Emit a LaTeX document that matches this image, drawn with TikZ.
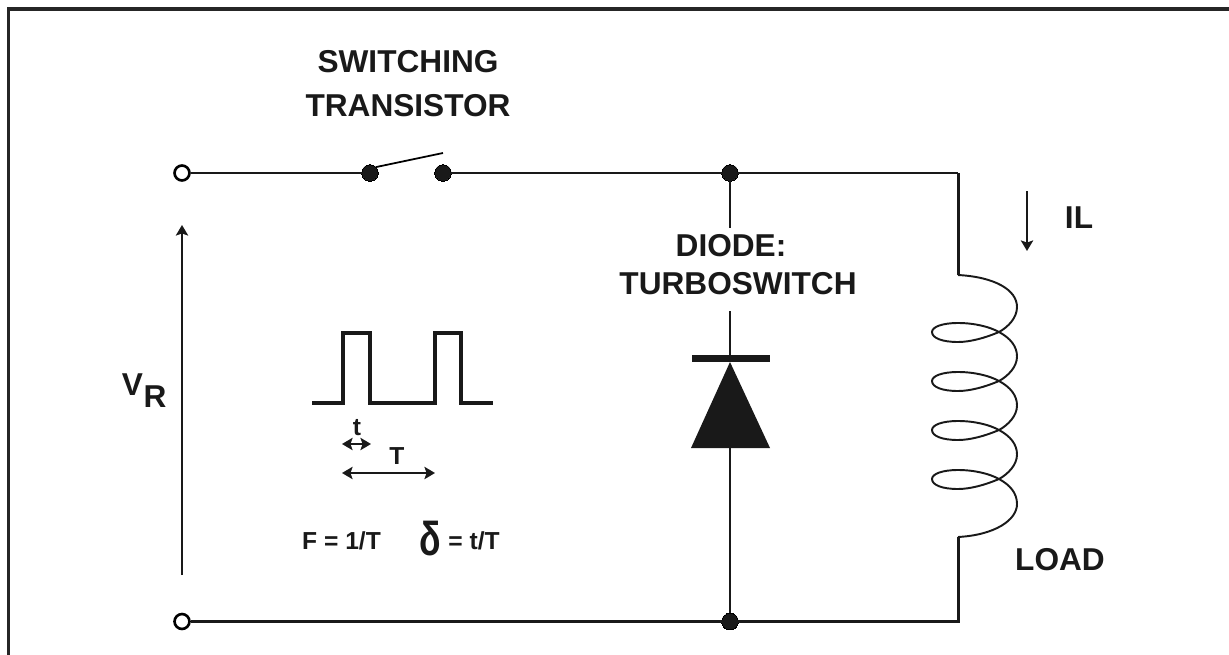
\documentclass[tikz,border=0pt]{standalone}
\usepackage{fontspec}
\setmainfont{Liberation Sans}
\usetikzlibrary{arrows.meta}

\tikzset{
    wire/.style={line width=1.2pt, black!90},
    thickwire/.style={line width=1.7pt, black!90},
    coil/.style={line width=1.1pt, black!90},
    term/.style={draw, circle, fill=white, line width=1.5pt, minimum size=8.5pt, inner sep=0pt},
    dot/.style={draw, circle, fill=black!90, line width=0pt, minimum size=9.5pt, inner sep=0pt},
    biglabel/.style={font=\bfseries\fontsize{18}{25}\selectfont, text=black!90, inner sep=0pt, align=center},
    smalllabel/.style={font=\bfseries\fontsize{14}{16}\selectfont, text=black!90, inner sep=0pt},
    tip/.style={line width=1.2pt, black!90, >={Stealth[length=6pt, width=7pt, inset=1.2pt]}},
}

\begin{document}
\begin{tikzpicture}[x=0.02cm, y=-0.02cm]
    \useasboundingbox (0,0) rectangle (1229,655);

    % frame
    \coordinate (FB) at (8.5,655);
    \coordinate (FT) at (1229,9);
    \draw[line width=2pt, black!85] (FB) |- (FT);

    \node[term] (Vtop) at (182,173) {};
    \node[term] (Vbot) at (182,621.5) {};
    \node[dot] (S1) at (370,173) {};
    \node[dot] (S2) at (443,173) {};
    \node[dot] (Jtop) at (730,173) {};
    \node[dot] (Jbot) at (730,621.5) {};
    \coordinate (Ctop) at (958,173);
    \coordinate (Cbot) at (958,621.5);
    \coordinate (L1) at (958,275);
    \coordinate (L2) at (958,537);
    \coordinate (Arm) at (443,153);
    \coordinate (Dgap1) at (730,228);
    \coordinate (Dgap2) at (730,311);
    \coordinate (Dtip) at (730,362);
    \coordinate (Dbase) at (730,448);

    \draw[wire] (Vtop) -- (S1);
    \draw[line width=1pt] (S1.north east) -- (Arm);
    \draw[wire] (S2) -- (Jtop) -- (Ctop);
    \draw[thickwire] (Ctop) -- (L1);
    \draw[thickwire] (L2) -- (Cbot) -- (Jbot) -- (Vbot);
    \draw[wire] (Jtop) -- (Dgap1);
    \draw[wire] (Dgap2) -- (Dtip);
    \draw[wire] (Dbase) -- (Jbot);

    % diode
    \fill[black!90] (691,448) -- (Dtip) -- (770,448) -- cycle;
    \fill[black!90] (692,355) rectangle (770,362);

    % load
    \draw[coil] (L1) .. controls (995,277) and (1017,290) .. (1017,307) .. controls (1017,318) and (1008,327) .. (999,332);
    \foreach \y [evaluate=\y as \d using \y+24.5, evaluate=\y as \e using \y+49] in {332,381,430} {
        \draw[coil] (999,\y) .. controls (985,\y+6) and (970,\y+10) .. (958,\y+10) .. controls (942,\y+10) and (932,\y+6) .. (932,\y) .. controls (932,\y-5) and (942,\y-9) .. (958,\y-9) .. controls (975,\y-9) and (990,\y-5) .. (999,\y) .. controls (1010,\y+6) and (1017,\y+14) .. (1017,\d) .. controls (1017,\y+35) and (1008,\y+44) .. (999,\e);
    }
    \draw[coil] (999,479) .. controls (985,485) and (970,489) .. (958,489) .. controls (942,489) and (932,485) .. (932,479) .. controls (932,474) and (942,470) .. (958,470) .. controls (975,470) and (990,474) .. (999,479) .. controls (1010,485) and (1017,493) .. (1017,504) .. controls (1017,520) and (995,535) .. (L2);

    % pulses
    \coordinate (P0) at (312,403);
    \coordinate (P1) at (493,403);
    \draw[line width=2.3pt, black!90, line join=miter] (P0) -- (343,403) -- (343,333) -- (370,333) -- (370,403) -- (435,403) -- (435,333) -- (461,333) -- (461,403) -- (P1);

    \coordinate (VA) at (182,575);
    \coordinate (VB) at (182,225);
    \draw[->, tip] (VA) -- (VB);
    \coordinate (IA) at (1027,191);
    \coordinate (IB) at (1027,251);
    \draw[->, tip] (IA) -- (IB);
    \coordinate (t1) at (342,444);
    \coordinate (t2) at (371,444);
    \draw[<->, tip] (t1) -- (t2);
    \coordinate (T1) at (342,473);
    \coordinate (T2) at (435,473);
    \draw[<->, tip] (T1) -- (T2);

    \node[biglabel] (SW) at (408,84) {SWITCHING\\TRANSISTOR};
    \node[biglabel] (DI) at (731,246) {DIODE:};
    \node[biglabel] (TU) at (738,284) {TURBOSWITCH};
    \node[biglabel] (IL) at (1079,218) {IL};
    \node[biglabel] (LD) at (1060,560) {LOAD};
    \node[biglabel] (V) at (132.5,385) {V};
    \node[biglabel] (R) at (155,397) {R};
    \node[smalllabel] (tl) at (357,428) {t};
    \node[smalllabel] (Tl) at (397,456) {T};
    \node[smalllabel] (F) at (341.5,541) {F = 1/T};
    \node[font=\bfseries\fontsize{27}{27}\selectfont, text=black!90, inner sep=0pt, xscale=.75] (delta) at (430,539) {δ};
    \node[smalllabel] (D) at (474,541) {= t/T};
\end{tikzpicture}
\end{document}
